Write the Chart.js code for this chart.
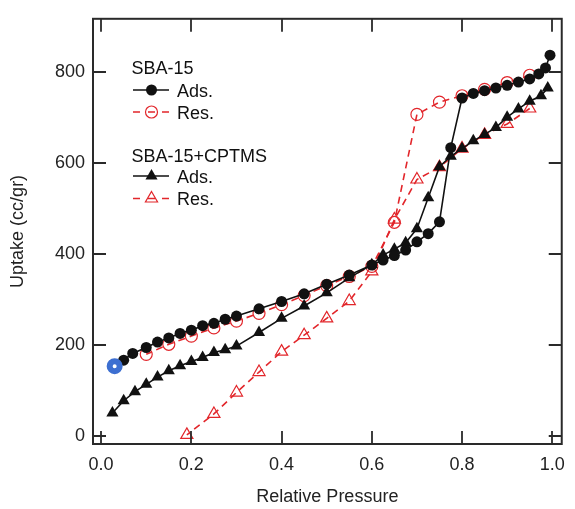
<!DOCTYPE html>
<html><head><meta charset="utf-8">
<script src="https://cdn.jsdelivr.net/npm/chart.js@4.4.1/dist/chart.umd.min.js"></script>
<style>html,body{margin:0;padding:0;background:#fff}canvas{display:block}</style>
</head><body>
<canvas id="c" width="575" height="509"></canvas>
<script>
// ---- data ----
const xTickValues = [0, 0.2, 0.4, 0.6, 0.8, 1.0];
const yTickValues = [0, 200, 400, 600, 800];

const sbaAdsX = [0.05,0.07,0.10,0.125,0.15,0.175,0.20,0.225,0.25,0.275,0.30,0.35,0.40,0.45,0.50,0.55,0.60,0.625,0.65,0.675,0.70,0.725,0.75,0.775,0.80,0.825,0.85,0.875,0.90,0.925,0.95,0.97,0.985,0.995];
const sbaAdsY = [166,181,194,206,215,225,232,242,247,256,263,279,295,312,333,353,375,386,396,408,426,444,470,633,742,752,758,764,770,777,784,795,808,836];

const sbaResX = [0.95,0.90,0.85,0.80,0.75,0.70,0.65,0.60,0.55,0.50,0.45,0.40,0.35,0.30,0.25,0.20,0.15,0.10];
const sbaResY = [792,776,761,747,733,706,469,372,350,330,308,288,269,252,237,219,201,179];

const cptAdsX = [0.025,0.05,0.075,0.10,0.125,0.15,0.175,0.20,0.225,0.25,0.275,0.30,0.35,0.40,0.45,0.50,0.55,0.60,0.625,0.65,0.675,0.70,0.725,0.75,0.775,0.80,0.825,0.85,0.875,0.90,0.925,0.95,0.975,0.99];
const cptAdsY = [50,77,97,113,129,143,154,163,172,183,189,197,227,258,285,314,347,376,397,410,424,455,523,591,614,631,648,662,677,700,718,735,747,764];

const cptResX = [0.95,0.90,0.85,0.80,0.75,0.70,0.65,0.60,0.55,0.50,0.45,0.40,0.35,0.30,0.25,0.19];
const cptResY = [719,685,661,631,590,563,475,361,296,258,221,185,140,95,48,2];

const highlightX = [0.03];
const highlightY = [153];

const seriesGroups = ['SBA-15', 'SBA-15+CPTMS'];
const seriesNames = ['Ads.', 'Res.'];

// ---- styling ----
const RED = '#e2262b';
const BLACK = '#111111';
const FONT = '"Liberation Sans", Arial, sans-serif';
const pts = (xs, ys) => xs.map((x, i) => ({x, y: ys[i]}));

function drawMark(ctx, style, x, y, r, fill, stroke, lw) {
  ctx.beginPath();
  if (style === 'circle') {
    ctx.arc(x, y, r, 0, Math.PI * 2);
  } else {
    let rad = 0;
    ctx.moveTo(x + Math.sin(rad) * r, y - Math.cos(rad) * r);
    rad += 2 * Math.PI / 3;
    ctx.lineTo(x + Math.sin(rad) * r, y - Math.cos(rad) * r);
    rad += 2 * Math.PI / 3;
    ctx.lineTo(x + Math.sin(rad) * r, y - Math.cos(rad) * r);
    ctx.closePath();
  }
  if (fill) { ctx.fillStyle = fill; ctx.fill(); }
  if (stroke) { ctx.strokeStyle = stroke; ctx.lineWidth = lw; ctx.stroke(); }
}

const legendPlugin = {
  id: 'customLegend',
  afterDraw(chart) {
    const ctx = chart.ctx;
    ctx.save();
    ctx.font = '18px ' + FONT;
    ctx.fillStyle = BLACK;
    ctx.textBaseline = 'alphabetic';
    const x0 = 131.5, lx0 = 133, lx1 = 169, mx = 151.5, tx = 177;
    const blocks = [
      {title: seriesGroups[0], ty: 74, rows: [{y: 90, style: 'circle', dash: false}, {y: 112, style: 'circle', dash: true}]},
      {title: seriesGroups[1], ty: 162, rows: [{y: 176, style: 'triangle', dash: false}, {y: 198.5, style: 'triangle', dash: true}]}
    ];
    blocks.forEach(b => {
      ctx.fillStyle = BLACK;
      ctx.fillText(b.title, x0, b.ty);
      b.rows.forEach((row, i) => {
        ctx.lineWidth = 1.6;
        if (!row.dash) {
          ctx.strokeStyle = BLACK;
          ctx.beginPath(); ctx.moveTo(lx0, row.y); ctx.lineTo(lx1, row.y); ctx.stroke();
          drawMark(ctx, row.style, mx, row.y, row.style === 'circle' ? 5.5 : 7, BLACK, null, 0);
        } else {
          ctx.strokeStyle = RED;
          ctx.beginPath();
          [[lx0, lx0 + 7], [mx - 3.5, mx + 3.5], [lx1 - 7, lx1]].forEach(s => { ctx.moveTo(s[0], row.y); ctx.lineTo(s[1], row.y); });
          ctx.stroke();
          drawMark(ctx, row.style, mx, row.y, row.style === 'circle' ? 6 : 7, null, RED, 1.2);
        }
        ctx.fillStyle = BLACK;
        ctx.fillText(seriesNames[i], tx, row.y + 6.5);
      });
    });
    ctx.restore();
  }
};

const framePlugin = {
  id: 'frame',
  afterDatasetsDraw(chart) {
    const {ctx, chartArea: a, scales: {x, y}} = chart;
    ctx.save();
    ctx.strokeStyle = '#2a2a2a';
    ctx.lineWidth = 2;
    ctx.strokeRect(a.left, a.top, a.right - a.left, a.bottom - a.top);
    const T = 13;
    ctx.lineWidth = 1.8;
    ctx.beginPath();
    xTickValues.forEach(v => {
      const px = Math.round(x.getPixelForValue(v));
      ctx.moveTo(px, a.bottom); ctx.lineTo(px, a.bottom - T);
      ctx.moveTo(px, a.top); ctx.lineTo(px, a.top + T);
    });
    yTickValues.forEach(v => {
      const py = Math.round(y.getPixelForValue(v));
      ctx.moveTo(a.left, py); ctx.lineTo(a.left + T, py);
      ctx.moveTo(a.right, py); ctx.lineTo(a.right - T, py);
    });
    ctx.stroke();
    ctx.restore();
  }
};

new Chart(document.getElementById('c'), {
  type: 'scatter',
  data: {
    datasets: [
      {label: 'highlight', data: pts(highlightX, highlightY), pointStyle: 'circle', pointRadius: 5, pointBorderWidth: 6,
       pointBackgroundColor: '#ffffff', pointBorderColor: '#3d6fd1', showLine: false},
      {label: 'SBA-15 Ads.', data: pts(sbaAdsX, sbaAdsY), showLine: true, borderColor: BLACK, borderWidth: 1.6,
       pointStyle: 'circle', pointRadius: 5.5, pointBackgroundColor: BLACK, pointBorderColor: BLACK, pointBorderWidth: 0},
      {label: 'SBA-15+CPTMS Ads.', data: pts(cptAdsX, cptAdsY), showLine: true, borderColor: BLACK, borderWidth: 1.6,
       pointStyle: 'triangle', pointRadius: 7, pointBackgroundColor: BLACK, pointBorderColor: BLACK, pointBorderWidth: 0},
      {label: 'SBA-15 Res.', data: pts(sbaResX, sbaResY), showLine: true, borderColor: RED, borderWidth: 1.6, borderDash: [7, 5],
       pointStyle: 'circle', pointRadius: 6, pointBackgroundColor: 'rgba(0,0,0,0)', pointBorderColor: RED, pointBorderWidth: 1.2},
      {label: 'SBA-15+CPTMS Res.', data: pts(cptResX, cptResY), showLine: true, borderColor: RED, borderWidth: 1.6, borderDash: [7, 5],
       pointStyle: 'triangle', pointRadius: 7, pointBackgroundColor: 'rgba(0,0,0,0)', pointBorderColor: RED, pointBorderWidth: 1.2}
    ]
  },
  options: {
    responsive: false,
    animation: false,
    devicePixelRatio: 1,
    layout: {padding: {left: 0, right: 4, top: 11, bottom: 0}},
    plugins: {legend: {display: false}, tooltip: {enabled: false}},
    scales: {
      x: {
        type: 'linear', min: -0.018, max: 1.021,
        grid: {display: false, drawTicks: false}, border: {display: false},
        afterBuildTicks: s => { s.ticks = xTickValues.map(v => ({value: v})); },
        afterFit: s => { s.height = 65; },
        ticks: {padding: 10, color: '#222', font: {family: FONT, size: 18}, callback: v => Number(v).toFixed(1)},
        title: {display: true, text: 'Relative Pressure', color: '#222', font: {family: FONT, size: 18}, padding: {top: 0, bottom: 1}}
      },
      y: {
        type: 'linear', min: -18, max: 916,
        grid: {display: false, drawTicks: false}, border: {display: false},
        afterBuildTicks: s => { s.ticks = yTickValues.map(v => ({value: v})); },
        afterFit: s => { s.width = 93; },
        ticks: {padding: 8, color: '#222', font: {family: FONT, size: 18}, callback: v => String(v)},
        title: {display: true, text: 'Uptake (cc/gr)', color: '#222', font: {family: FONT, size: 18}, padding: {top: 7, bottom: 0}}
      }
    }
  },
  plugins: [framePlugin, legendPlugin]
});
</script>
</body></html>
